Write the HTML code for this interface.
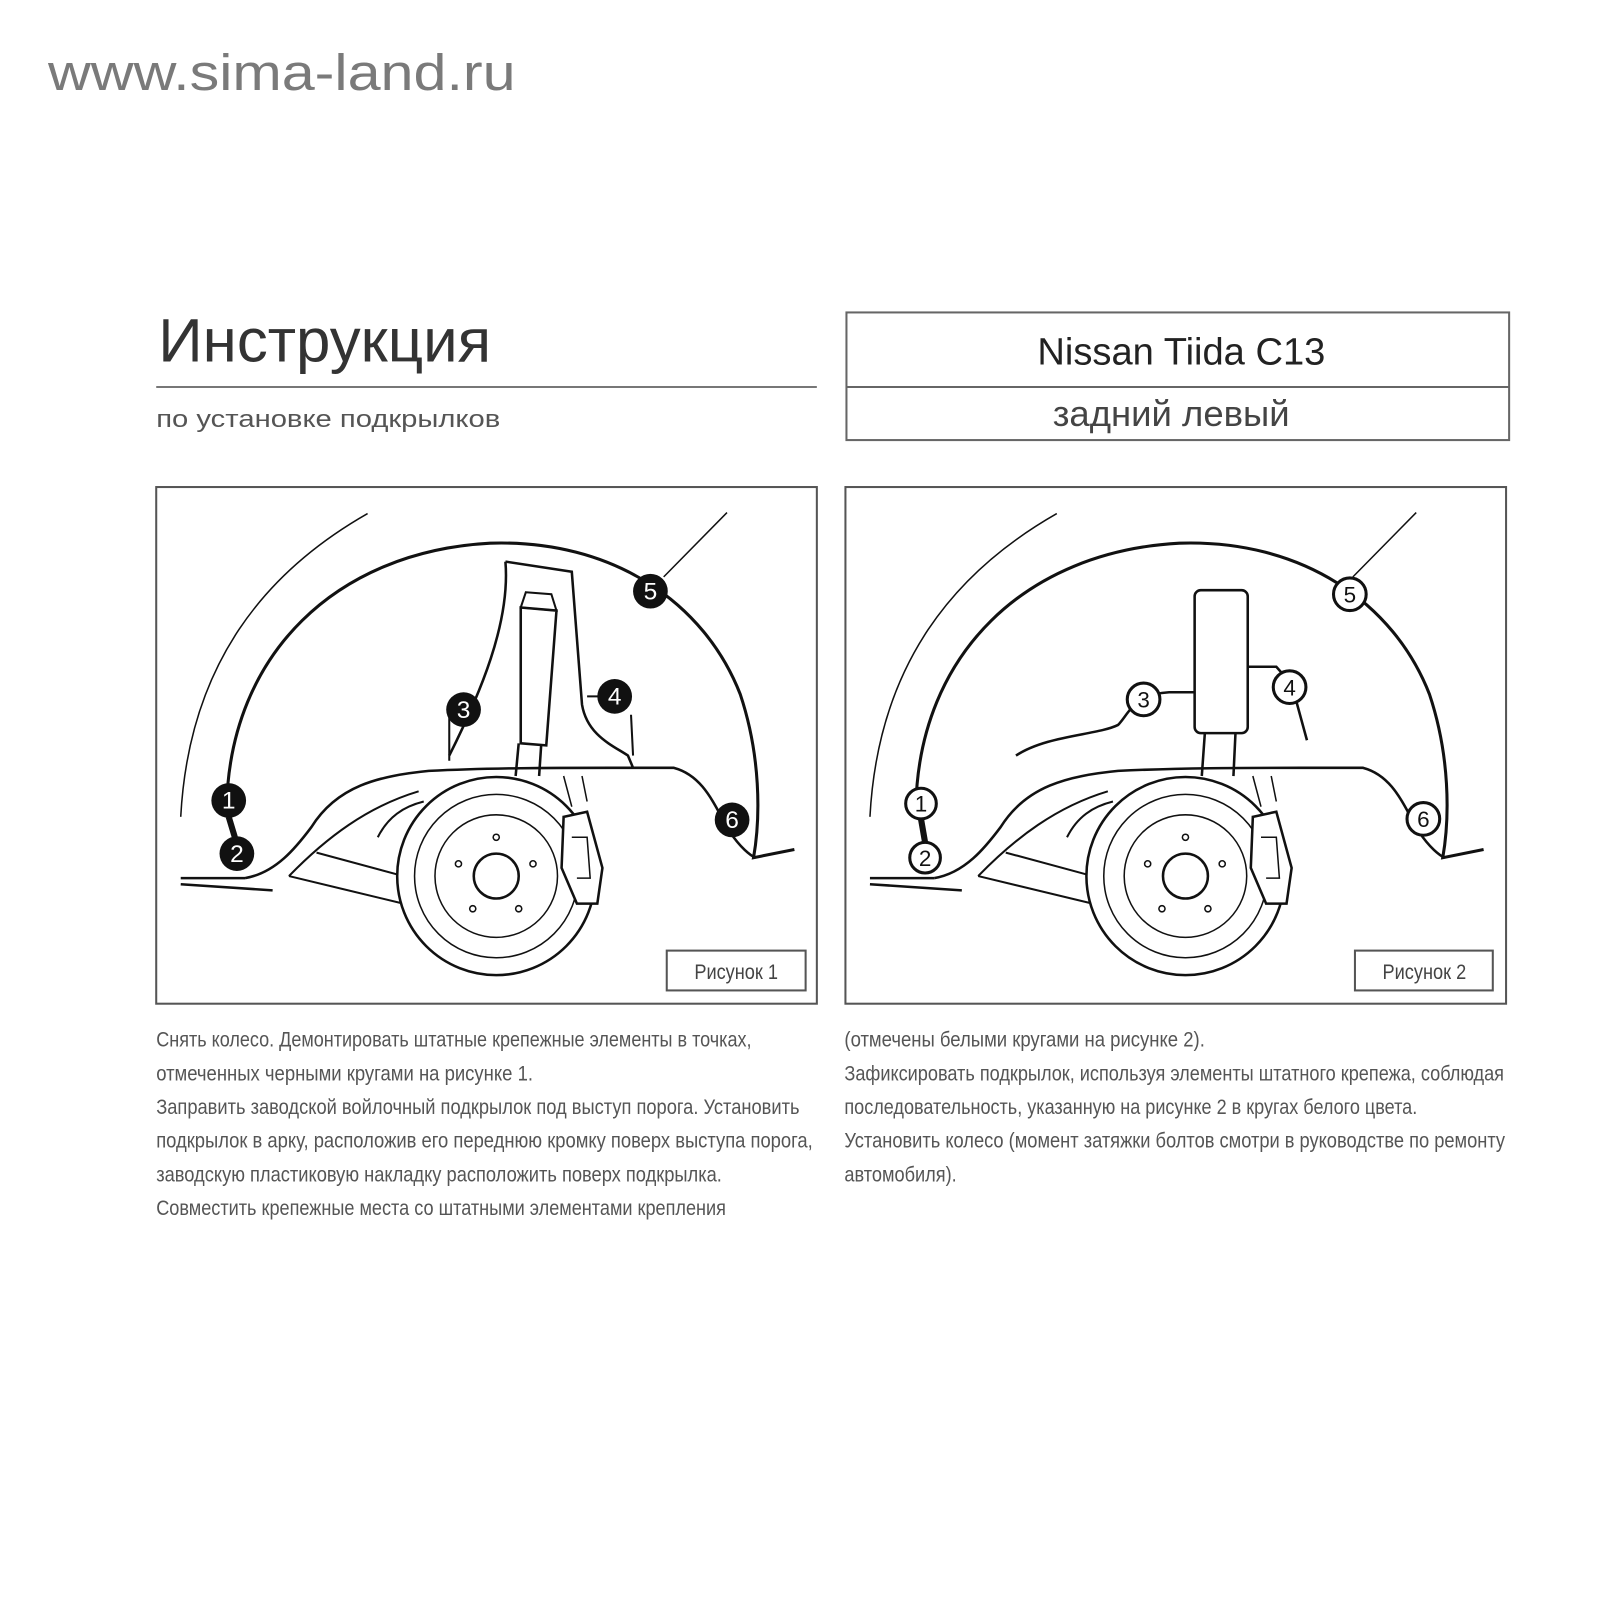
<!DOCTYPE html>
<html><head><meta charset="utf-8"><style>html,body{margin:0;padding:0;background:#fff}svg{display:block}</style></head><body>
<svg width="1600" height="1600" viewBox="0 0 1567 1567" xmlns="http://www.w3.org/2000/svg" font-family="Liberation Sans, sans-serif">
<rect width="1567" height="1567" fill="#fff"/>
<text x="47" y="88" font-size="50" fill="#7a7a7a" textLength="458" lengthAdjust="spacingAndGlyphs">www.sima-land.ru</text>
<text x="155" y="354" font-size="60" fill="#333" textLength="326" lengthAdjust="spacingAndGlyphs">Инструкция</text>
<line x1="153" y1="379" x2="800" y2="379" stroke="#777" stroke-width="2"/>
<text x="153" y="418" font-size="24" fill="#555" textLength="337" lengthAdjust="spacingAndGlyphs">по установке подкрылков</text>
<rect x="829" y="306" width="649" height="125" fill="none" stroke="#666" stroke-width="2"/>
<line x1="829" y1="379" x2="1478" y2="379" stroke="#666" stroke-width="2"/>
<text x="1157" y="357" font-size="37" fill="#222" text-anchor="middle" textLength="282" lengthAdjust="spacingAndGlyphs">Nissan Tiida C13</text>
<text x="1147" y="417" font-size="35" fill="#444" text-anchor="middle" textLength="232" lengthAdjust="spacingAndGlyphs">задний левый</text>

<rect x="153" y="477" width="647" height="506" fill="none" stroke="#555" stroke-width="2"/>
<rect x="828" y="477" width="647" height="506" fill="none" stroke="#555" stroke-width="2"/>
<rect x="653" y="931" width="136" height="39" fill="none" stroke="#555" stroke-width="2"/>
<text x="721" y="959" font-size="21" fill="#444" text-anchor="middle" textLength="82" lengthAdjust="spacingAndGlyphs">Рисунок 1</text>
<rect x="1327" y="931" width="135" height="39" fill="none" stroke="#555" stroke-width="2"/>
<text x="1395" y="959" font-size="21" fill="#444" text-anchor="middle" textLength="82" lengthAdjust="spacingAndGlyphs">Рисунок 2</text>

<defs>
<g id="base" fill="none" stroke="#111">
<path d="M177,800 C185,650 260,560 360,503" stroke-width="1.5"/>
<path d="M222,790 C225,640 330,540 480,532 C600,528 690,590 725,680 C745,740 745,800 738,840 L778,832" stroke-width="3"/>
<line x1="650" y1="565" x2="712" y2="502" stroke-width="1.5"/>
<path d="M177,866 L267,872 M177,860 L240,860" stroke-width="2.5"/>
<path d="M240,860 C270,855 290,830 305,810 C330,770 370,760 420,755 C480,752 540,752 600,752 L660,752 C690,760 700,790 715,815 C725,830 735,838 740,840" stroke-width="2.5"/>
<path d="M283,858 C320,820 360,790 410,775 M310,835 L395,858 M283,858 L395,885" stroke-width="2"/>
<path d="M370,820 C380,800 395,790 415,785" stroke-width="2"/>
<circle cx="486" cy="858" r="97" fill="#fff" stroke-width="2.5"/>
<circle cx="486" cy="858" r="80" stroke-width="1.5"/>
<circle cx="486" cy="858" r="60" stroke-width="1.5"/>
<circle cx="486" cy="858" r="22" stroke-width="2.5"/>
<circle cx="486" cy="820" r="3" stroke-width="1.5"/><circle cx="522" cy="846" r="3" stroke-width="1.5"/><circle cx="508" cy="890" r="3" stroke-width="1.5"/><circle cx="463" cy="890" r="3" stroke-width="1.5"/><circle cx="449" cy="846" r="3" stroke-width="1.5"/>
<path d="M552,800 L575,795 L590,850 L585,885 L565,885 L550,850 Z" fill="#fff" stroke-width="2.5"/>
<path d="M560,820 L575,820 L578,860 L565,860" stroke-width="1.5"/>
<path d="M552,760 L560,790 M570,760 L575,785" stroke-width="1.5"/>
</g>
</defs>

<use href="#base"/>
<g fill="none" stroke="#111">
<path d="M495,550 L560,560 L570,690 C575,720 600,730 615,740 L620,752 M495,550 C500,610 470,680 440,740" stroke-width="2.5"/>
<path d="M510,595 L545,598 L535,730 L510,728 Z" stroke-width="2.5"/>
<path d="M515,580 L540,582 L545,598 L510,595 Z" stroke-width="2"/>
<path d="M508,728 L505,760 M530,730 L528,760" stroke-width="2.5"/>
<path d="M575,682 L602,682 M618,700 L620,740 M440,695 L440,745" stroke-width="2"/>
</g>
<g fill="#111">
<circle cx="224" cy="784" r="17"/><circle cx="232" cy="836" r="17"/><circle cx="454" cy="695" r="17"/>
<circle cx="602" cy="682" r="17"/><circle cx="637" cy="579" r="17"/><circle cx="717" cy="803" r="17"/>
<line x1="224" y1="800" x2="230" y2="820" stroke="#111" stroke-width="6"/>
</g>
<g fill="#fff" font-size="24" text-anchor="middle">
<text x="224" y="792">1</text><text x="232" y="844">2</text><text x="454" y="703">3</text>
<text x="602" y="690">4</text><text x="637" y="587">5</text><text x="717" y="811">6</text>
</g>

<g transform="translate(675,0)"><use href="#base"/>
<g fill="none" stroke="#111">
<rect x="495" y="578" width="52" height="140" rx="6" fill="#fff" stroke-width="2.5"/>
<path d="M505,718 L502,760 M535,718 L533,760" stroke-width="2.5"/>
<path d="M320,740 C350,720 400,720 420,710 C430,700 435,680 470,678 L495,678" stroke-width="2.5"/>
<path d="M547,653 L575,653 L590,670 L605,725" stroke-width="2.5"/>
</g></g>
<g fill="#fff" stroke="#111" stroke-width="3">
<line x1="902" y1="802" x2="906" y2="825" stroke-width="6"/>
<circle cx="902" cy="787" r="15"/><circle cx="906" cy="840" r="15"/><circle cx="1120" cy="685" r="16"/>
<circle cx="1263" cy="673" r="16"/><circle cx="1322" cy="582" r="16"/><circle cx="1394" cy="802" r="16"/>
</g>
<g fill="#111" font-size="22" text-anchor="middle">
<text x="902" y="795">1</text><text x="906" y="848">2</text><text x="1120" y="693">3</text>
<text x="1263" y="681">4</text><text x="1322" y="590">5</text><text x="1394" y="810">6</text>
</g>

<g font-size="21" fill="#555">
<text x="153" y="1025" textLength="583" lengthAdjust="spacingAndGlyphs">Снять колесо. Демонтировать штатные крепежные элементы в точках,</text>
<text x="153" y="1058" textLength="369" lengthAdjust="spacingAndGlyphs">отмеченных черными кругами на рисунке 1.</text>
<text x="153" y="1091" textLength="630" lengthAdjust="spacingAndGlyphs">Заправить заводской войлочный подкрылок под выступ порога. Установить</text>
<text x="153" y="1124" textLength="643" lengthAdjust="spacingAndGlyphs">подкрылок в арку, расположив его переднюю кромку поверх выступа порога,</text>
<text x="153" y="1157" textLength="554" lengthAdjust="spacingAndGlyphs">заводскую пластиковую накладку расположить поверх подкрылка.</text>
<text x="153" y="1190" textLength="558" lengthAdjust="spacingAndGlyphs">Совместить крепежные места со штатными элементами крепления</text>
<text x="827" y="1025" textLength="353" lengthAdjust="spacingAndGlyphs">(отмечены белыми кругами на рисунке 2).</text>
<text x="827" y="1058" textLength="646" lengthAdjust="spacingAndGlyphs">Зафиксировать подкрылок, используя элементы штатного крепежа, соблюдая</text>
<text x="827" y="1091" textLength="561" lengthAdjust="spacingAndGlyphs">последовательность, указанную на рисунке 2 в кругах белого цвета.</text>
<text x="827" y="1124" textLength="647" lengthAdjust="spacingAndGlyphs">Установить колесо (момент затяжки болтов смотри в руководстве по ремонту</text>
<text x="827" y="1157" textLength="110" lengthAdjust="spacingAndGlyphs">автомобиля).</text>
</g>
</svg>
</body></html>
